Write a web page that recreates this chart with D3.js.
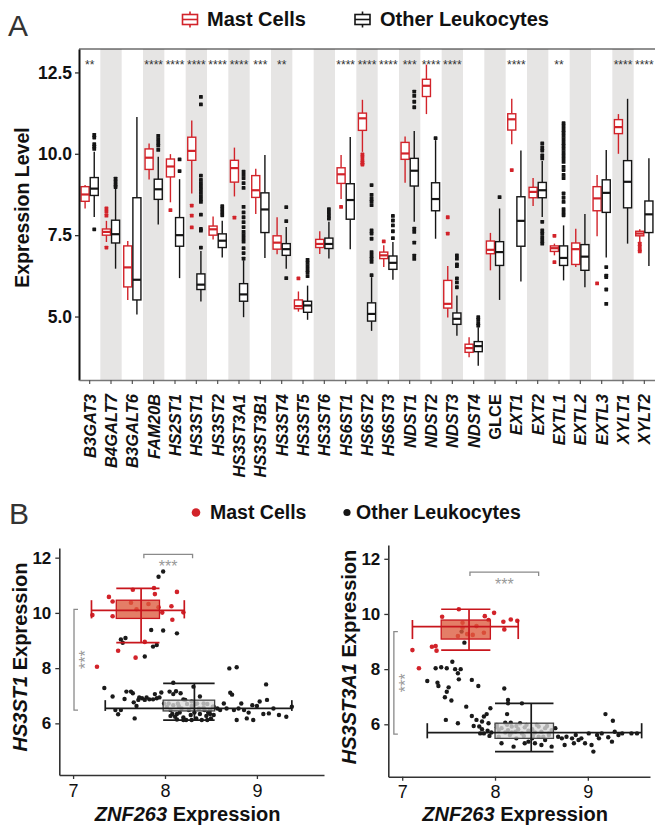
<!DOCTYPE html>
<html>
<head>
<meta charset="utf-8">
<script src="https://cdn.jsdelivr.net/npm/d3@7"></script>
<style>
  body { margin: 0; background: #fff; }
  svg { display: block; font-family: "Liberation Sans", Arial, Helvetica, sans-serif; }
</style>
</head>
<body>
<svg id="chart" width="655" height="828"></svg>
<script>
// ========================================
// PANEL A DATA (boxplots per gene)
// ========================================

const genes = ["B3GAT3", "B4GALT7", "B3GALT6", "FAM20B", "HS2ST1", "HS3ST1", "HS3ST2", "HS3ST3A1",
    "HS3ST3B1", "HS3ST4", "HS3ST5", "HS3ST6", "HS6ST1", "HS6ST2", "HS6ST3", "NDST1", "NDST2",
    "NDST3", "NDST4", "GLCE", "EXT1", "EXT2", "EXTL1", "EXTL2", "EXTL3", "XYLT1", "XYLT2"];
const uprightGenes = ["GLCE"];

const stars = ["**", "", "", "****", "****", "****", "****", "****", "***", "**", "", "", "****", "****",
    "****", "***", "****", "****", "", "", "****", "", "**", "", "", "****", "****"];

// [lower whisker, q1, median, q3, upper whisker]
const mastStats = [
    [8.32, 8.54, 8.75, 8.99, 9.04], [7.29, 7.5, 7.6, 7.69, 7.94], [5.51, 5.91, 6.51, 7.17, 7.32],
    [9.21, 9.52, 9.88, 10.15, 10.32], [8.51, 9.29, 9.61, 9.84, 9.99], [8.78, 9.8, 10.09, 10.51, 11.02],
    [7.37, 7.5, 7.68, 7.78, 8.07], [8.69, 9.13, 9.56, 9.8, 10.19], [8.15, 8.66, 8.88, 9.33, 9.54],
    [6.91, 7.07, 7.27, 7.48, 8.05], [5.15, 5.24, 5.32, 5.51, 5.77], [6.92, 7.12, 7.23, 7.37, 7.62],
    [8.61, 9.09, 9.37, 9.57, 9.96], [10.06, 10.72, 11.09, 11.25, 11.66], [6.52, 6.78, 6.88, 6.98, 7.19],
    [9.11, 9.83, 10.01, 10.35, 10.53], [11.22, 11.76, 12.09, 12.29, 12.74], [4.97, 5.26, 5.39, 6.11, 6.55],
    [3.75, 3.9, 4.03, 4.15, 4.36], [6.42, 6.93, 7.05, 7.32, 7.57], [10.29, 10.73, 11.06, 11.23, 11.69],
    [8.4, 8.65, 8.83, 8.97, 9.26], [6.88, 7.0, 7.1, 7.17, 7.24], [6.52, 6.6, 7.07, 7.26, 7.7],
    [7.47, 8.25, 8.63, 8.99, 9.35], [10.0, 10.62, 10.82, 11.05, 11.22], [7.29, 7.48, 7.55, 7.62, 7.68]
];
const otherStats = [
    [8.06, 8.72, 8.93, 9.27, 10.06], [6.47, 7.26, 7.53, 7.96, 8.95], [5.06, 5.51, 6.13, 8.65, 11.13],
    [7.83, 8.6, 8.91, 9.22, 9.91], [6.18, 7.16, 7.5, 8.04, 9.22], [5.46, 5.83, 5.98, 6.31, 7.01],
    [6.81, 7.12, 7.33, 7.54, 7.94], [4.98, 5.47, 5.68, 6.01, 6.73], [6.8, 7.58, 8.29, 8.8, 9.96],
    [6.47, 6.88, 7.07, 7.24, 7.75], [4.9, 5.13, 5.34, 5.47, 5.95], [6.78, 7.09, 7.23, 7.41, 7.91],
    [7.07, 7.99, 8.58, 9.08, 10.52], [4.56, 4.86, 5.08, 5.42, 6.21], [6.13, 6.45, 6.65, 6.86, 7.29],
    [7.91, 9.01, 9.48, 9.86, 10.7], [7.39, 8.25, 8.61, 9.11, 10.42], [4.41, 4.76, 4.93, 5.11, 5.65],
    [3.49, 3.92, 4.09, 4.23, 4.67], [5.51, 6.57, 6.98, 7.3, 8.32], [6.08, 7.16, 7.94, 8.68, 10.1],
    [8.06, 8.65, 8.88, 9.12, 9.78], [6.11, 6.57, 6.8, 7.17, 7.8], [5.9, 6.42, 6.84, 7.21, 8.15],
    [6.81, 8.2, 8.8, 9.2, 10.12], [7.24, 8.34, 9.14, 9.79, 11.69], [6.55, 7.58, 8.14, 8.55, 9.86]
];

const mastOutliers = [
    [], [8.32, 8.22, 8.1, 7.12], [], [], [8.27], [8.41, 8.1, 7.74], [], [8.04], [], [], [6.17], [],
    [8.37], [9.98, 9.9, 9.8, 9.72, 9.67], [7.31], [], [], [8.05, 7.55], [], [], [9.5], [], [7.48, 6.67],
    [], [6.02], [], [7.24, 7.15, 7.05, 7.0]
];
const otherOutliers = [
    [10.58, 10.5, 10.3, 10.22, 10.15, 7.68],
    [9.24, 9.15, 9.05, 8.98],
    [],
    [10.55, 10.45, 10.35, 10.25, 10.12],
    [9.83, 9.47],
    [11.75, 11.52, 9.33, 9.2, 9.1, 9.0, 8.9, 8.8, 8.7, 8.6, 8.52, 8.13, 7.69, 7.64, 7.12],
    [8.39, 8.3, 8.2, 8.11],
    [9.45, 9.35, 9.25, 9.1, 8.95, 8.37, 8.2, 8.05, 7.9, 7.75, 7.6, 7.5, 7.4, 7.3, 7.1, 6.95, 6.78],
    [],
    [8.36, 7.93, 6.18],
    [6.74, 6.65, 6.55, 6.45, 6.35, 6.24],
    [8.3, 8.2, 8.1, 8.01],
    [],
    [9.04, 8.74, 8.63, 8.53, 8.42, 7.65, 7.55, 7.39, 6.98, 6.88, 6.78, 6.68, 6.27],
    [8.09, 7.95, 7.8, 7.62, 7.41],
    [11.91, 11.78, 11.6, 11.43, 7.7, 7.6, 7.27, 6.87, 6.77],
    [10.48],
    [6.88, 6.78, 6.6, 6.55, 6.17, 6.05, 5.9],
    [4.98, 4.9, 4.8, 4.72],
    [8.67],
    [],
    [10.32, 10.2, 10.1, 9.95, 9.86, 7.91, 7.65, 7.55, 7.44, 7.34, 7.24],
    [10.94, 10.85, 10.75, 10.65, 10.55, 10.45, 10.35, 10.25, 10.15, 10.05, 9.95, 9.85, 9.75, 9.6, 9.5,
        9.35, 9.25, 8.78, 8.65, 8.52, 8.3, 8.2, 8.11],
    [],
    [6.52, 6.26, 6.21, 5.83, 5.39],
    [],
    []
];

const yTicksA = [5.0, 7.5, 10.0, 12.5];

// ========================================
// PANEL B DATA (ZNF263 vs HS3ST1 / HS3ST3A1)
// ========================================

// [x = ZNF263, y = gene]
const hs3st1Mast = [[7.21, 9.92], [7.26, 8.05], [7.39, 10.58], [7.43, 10.41], [7.43, 9.88], [7.49, 8.63],
    [7.65, 10.84], [7.63, 10.37], [7.69, 10.13], [7.78, 8.95], [7.68, 8.38], [7.82, 10.32], [7.88, 10.9],
    [7.89, 10.68], [7.93, 10.2], [7.97, 10.01], [8.07, 10.24], [8.08, 9.75], [8.13, 10.76], [8.2, 10.02]];

const hs3st1Other = [[7.52, 9.04], [7.54, 8.92], [7.57, 9.09], [7.78, 8.42], [7.85, 9.38], [7.87, 8.78],
    [7.91, 8.84], [7.98, 9.36], [7.93, 11.31], [7.98, 11.5], [8.13, 9.26], [8.7, 7.99], [8.78, 8.03],
    [9.1, 7.41], [7.34, 7.28], [7.43, 6.97], [7.46, 6.48], [7.49, 6.33], [7.52, 6.48], [7.56, 6.88],
    [7.58, 7.15], [7.63, 7.15], [7.65, 7.09], [7.66, 6.76], [7.67, 6.18], [7.69, 6.63], [7.71, 6.85],
    [7.72, 6.94], [7.75, 6.91], [7.78, 6.85], [7.8, 6.94], [7.83, 6.87], [7.87, 6.87], [7.89, 7.06],
    [7.91, 6.91], [7.94, 6.94], [7.96, 7.12], [7.99, 6.72], [8.05, 7.15], [8.09, 7.47], [8.12, 7.16],
    [8.09, 7.06], [8.14, 6.72], [8.17, 7.09], [8.2, 6.87], [8.22, 6.85], [8.31, 7.33], [8.29, 6.79],
    [8.35, 6.72], [8.38, 6.97], [8.42, 6.72], [8.46, 6.7], [8.49, 6.48], [8.53, 6.6], [8.57, 6.54],
    [8.6, 6.48], [8.64, 6.72], [8.67, 6.54], [8.71, 7.11], [8.73, 7.04], [8.75, 6.48], [8.78, 6.12],
    [8.8, 6.54], [8.83, 6.72], [8.86, 6.48], [8.89, 6.18], [8.91, 6.39], [8.95, 6.66], [8.96, 6.12],
    [9.0, 6.63], [9.03, 6.79], [9.07, 6.34], [9.11, 6.85], [9.13, 6.36], [9.18, 6.54], [9.24, 6.3],
    [9.32, 6.24], [9.38, 6.6], [8.02, 6.6], [8.06, 6.48], [8.08, 6.34], [8.11, 6.24], [8.13, 6.14],
    [8.16, 6.39], [8.18, 6.54], [8.2, 6.21], [8.23, 6.12], [8.26, 6.48], [8.28, 6.3], [8.29, 6.63],
    [8.32, 6.39], [8.34, 6.18], [8.37, 6.54], [8.38, 6.34], [8.4, 6.12], [8.43, 6.48], [8.45, 6.27],
    [8.47, 6.39], [8.5, 6.18], [8.52, 6.6], [8.04, 6.72], [8.09, 6.66], [8.15, 6.63], [8.24, 6.7],
    [8.33, 6.7], [8.42, 6.58], [8.49, 6.34], [8.2, 6.12], [8.29, 6.12], [8.13, 6.34], [8.06, 6.27],
    [8.46, 6.12], [8.53, 6.3]];

const hs3st3a1Mast = [[7.11, 8.69], [7.18, 8.03], [7.32, 8.81], [7.36, 8.84], [7.37, 8.67], [7.43, 9.9],
    [7.61, 10.17], [7.6, 9.2], [7.65, 9.68], [7.65, 9.5], [7.7, 9.27], [7.76, 9.24], [7.8, 9.56],
    [7.88, 9.32], [7.89, 9.92], [7.93, 9.78], [7.99, 10.04], [8.09, 9.72], [8.1, 9.44], [8.17, 9.8],
    [8.24, 9.75]];

const hs3st3a1Other = [[7.67, 8.96], [7.64, 9.36], [7.27, 7.57], [7.36, 8.03], [7.42, 8.07], [7.48, 8.03],
    [7.54, 8.27], [7.57, 8.0], [7.6, 7.85], [7.63, 8.0], [7.61, 7.63], [7.75, 7.61], [7.82, 7.39],
    [7.38, 7.51], [7.39, 7.39], [7.5, 7.34], [7.48, 7.18], [7.46, 6.98], [7.53, 6.86], [7.47, 6.16],
    [7.6, 6.04], [7.69, 6.64], [7.75, 6.3], [7.8, 6.16], [7.83, 5.92], [7.86, 6.1], [7.88, 6.28],
    [7.91, 6.37], [7.93, 6.04], [7.95, 6.58], [7.77, 5.94], [7.84, 5.67], [7.86, 5.82], [7.88, 5.67],
    [7.92, 5.77], [7.94, 5.58], [7.96, 5.7], [8.02, 5.89], [8.04, 5.55], [8.07, 5.31], [8.11, 6.06],
    [8.13, 6.37], [8.14, 6.76], [8.14, 6.88], [8.1, 7.3], [8.17, 6.06], [8.18, 5.7], [8.2, 5.19],
    [8.23, 5.49], [8.29, 6.76], [8.32, 5.31], [8.36, 5.37], [8.4, 5.49], [8.43, 5.31], [8.47, 5.55],
    [8.5, 5.25], [8.54, 5.43], [8.58, 5.61], [8.61, 5.19], [8.65, 5.86], [8.68, 5.55], [8.72, 5.49],
    [8.75, 5.25], [8.77, 5.55], [8.83, 5.49], [8.85, 5.31], [8.87, 5.61], [8.9, 5.43], [8.93, 5.49],
    [8.97, 5.31], [9.01, 5.67], [9.04, 5.25], [9.06, 5.01], [9.1, 5.61], [9.12, 5.49], [9.15, 5.67],
    [9.19, 6.37], [9.22, 5.53], [9.26, 5.37], [9.27, 6.13], [9.29, 5.73], [9.33, 5.61], [9.37, 5.67],
    [9.47, 5.67], [9.53, 5.67], [8.04, 5.79], [8.07, 5.86], [8.11, 5.7], [8.14, 5.79], [8.18, 5.92],
    [8.22, 5.73], [8.25, 5.82], [8.29, 5.67], [8.32, 5.89], [8.36, 5.77], [8.4, 5.82], [8.43, 5.7],
    [8.47, 5.92], [8.5, 5.73], [8.54, 5.86], [8.58, 5.67], [8.61, 5.79], [8.02, 5.98], [8.13, 5.98],
    [8.23, 5.94], [8.34, 5.98], [8.45, 5.98], [8.56, 5.94], [8.16, 5.61], [8.31, 5.58], [8.41, 5.58],
    [8.52, 5.55], [8.27, 6.04]];

// 2D box summaries: [lower whisker, q1, median, q3, upper whisker]
const hs3st1MastBoxX = [7.2, 7.47, 7.74, 7.94, 8.21];
const hs3st1MastBoxY = [8.92, 9.8, 10.09, 10.46, 10.89];
const hs3st1OtherBoxX = [7.35, 7.98, 8.32, 8.54, 9.38];
const hs3st1OtherBoxY = [6.12, 6.45, 6.54, 6.84, 7.45];
const hs3st3a1MastBoxX = [7.11, 7.42, 7.72, 7.95, 8.25];
const hs3st3a1MastBoxY = [8.69, 9.09, 9.54, 9.78, 10.17];
const hs3st3a1OtherBoxX = [7.27, 8.0, 8.39, 8.63, 9.58];
const hs3st3a1OtherBoxY = [5.01, 5.49, 5.7, 6.04, 6.76];

const xTicksB = [7, 8, 9];
const yTicksB = [6, 8, 10, 12];

// ========================================
// SHARED
// ========================================

const RED = "#d2232a";
const INK = "#151515";
const svg = d3.select("#chart");

function panelLetter(txt, x, y) {
    svg.append("text").attr("x", x).attr("y", y)
        .attr("font-size", 30).attr("fill", "#333").text(txt);
}

// ========================================
// PANEL A
// ========================================

const frameA = { left: 79, right: 655, top: 49, bottom: 380 };
const xA = d3.scaleBand().domain(genes).range([frameA.left, frameA.right]);
const yA = d3.scaleLinear().domain([3.05, 13.22]).range([frameA.bottom, frameA.top]);
const dodge = d3.scaleBand().domain(["mast", "other"]).range([-8.6, 8.6]).paddingInner(0.12);

const gA = svg.append("g");

panelLetter("A", 8, 36);

gA.selectAll(".band")
    .data(genes.filter((g, i) => i % 2 === 1))
    .enter().append("rect")
    .attr("class", "band")
    .attr("x", d => xA(d))
    .attr("y", frameA.top)
    .attr("width", xA.bandwidth())
    .attr("height", frameA.bottom - frameA.top)
    .attr("fill", "#e6e5e4");

function drawBoxes(stats, outliers, key, color) {
    const w = dodge.bandwidth();
    const cx = g => xA(g) + xA.bandwidth() / 2 + dodge(key) + w / 2;
    const grp = gA.append("g").attr("stroke", color).attr("fill", "none");

    genes.forEach((g, i) => {
        const [lo, q1, med, q3, hi] = stats[i];
        const c = cx(g);
        grp.append("line").attr("x1", c).attr("x2", c)
            .attr("y1", yA(hi)).attr("y2", yA(q3)).attr("stroke-width", 1.4);
        grp.append("line").attr("x1", c).attr("x2", c)
            .attr("y1", yA(q1)).attr("y2", yA(lo)).attr("stroke-width", 1.4);
        grp.append("rect")
            .attr("x", c - w / 2).attr("y", yA(q3))
            .attr("width", w).attr("height", yA(q1) - yA(q3))
            .attr("fill", "#fff").attr("stroke-width", 1.4);
        grp.append("line").attr("x1", c - w / 2).attr("x2", c + w / 2)
            .attr("y1", yA(med)).attr("y2", yA(med)).attr("stroke-width", 2.2);

        gA.append("g").selectAll("rect")
            .data(outliers[i])
            .enter().append("rect")
            .attr("x", c - 1.9).attr("y", d => yA(d) - 1.9)
            .attr("width", 3.8).attr("height", 3.8)
            .attr("rx", 0.6)
            .attr("fill", color);
    });
}

drawBoxes(mastStats, mastOutliers, "mast", RED);
drawBoxes(otherStats, otherOutliers, "other", INK);

// significance stars
gA.selectAll(".star")
    .data(genes)
    .enter().append("text")
    .attr("class", "star")
    .attr("x", d => xA(d) + xA.bandwidth() / 2)
    .attr("y", 68.5)
    .attr("text-anchor", "middle")
    .attr("font-size", 12)
    .attr("fill", "#333")
    .text((d, i) => stars[i]);

// frame
gA.append("line").attr("x1", frameA.left).attr("x2", frameA.right)
    .attr("y1", frameA.top).attr("y2", frameA.top).attr("stroke", "#222").attr("stroke-width", 1);

const yAxisA = gA.append("g")
    .attr("transform", `translate(${frameA.left},0)`)
    .call(d3.axisLeft(yA).tickValues(yTicksA).tickFormat(d3.format(".1f")).tickSize(4).tickSizeOuter(0));
yAxisA.select(".domain").attr("stroke", "#111").attr("stroke-width", 2);
yAxisA.selectAll(".tick line").attr("stroke", "#333").attr("stroke-width", 1.3);
yAxisA.selectAll(".tick text")
    .attr("font-size", 17.5).attr("font-weight", "bold").attr("fill", "#111")
    .attr("font-family", "'Liberation Sans', Arial, sans-serif")
    .attr("x", -7);

const xAxisA = gA.append("g")
    .attr("transform", `translate(0,${frameA.bottom})`)
    .call(d3.axisBottom(xA).tickSize(4).tickSizeOuter(0));
xAxisA.select(".domain").attr("stroke", "#777").attr("stroke-width", 1.5);
xAxisA.selectAll(".tick line").attr("stroke", "#555").attr("stroke-width", 1.2);
xAxisA.selectAll(".tick text")
    .attr("font-size", 16.5).attr("font-weight", "bold").attr("fill", "#111")
    .attr("font-family", "'Liberation Sans', Arial, sans-serif")
    .attr("font-style", d => uprightGenes.includes(d) ? "normal" : "italic")
    .attr("text-anchor", "end")
    .attr("dy", null)
    .attr("y", 0)
    .attr("x", 0)
    .attr("transform", "translate(6,14) rotate(-90)");

svg.append("text")
    .attr("transform", "translate(29,207.5) rotate(-90)")
    .attr("text-anchor", "middle")
    .attr("font-size", 19.5).attr("font-weight", "bold").attr("fill", "#111")
    .text("Expression Level");

// legend A
function boxIcon(x, y, color) {
    const g = svg.append("g").attr("stroke", color).attr("fill", "#fff").attr("stroke-width", 1.6);
    g.append("line").attr("x1", x + 7.5).attr("x2", x + 7.5).attr("y1", y - 8).attr("y2", y + 8);
    g.append("rect").attr("x", x).attr("y", y - 5).attr("width", 15).attr("height", 10);
    g.append("line").attr("x1", x).attr("x2", x + 15).attr("y1", y).attr("y2", y);
}
boxIcon(182.5, 19.5, RED);
svg.append("text").attr("x", 207).attr("y", 26).attr("font-size", 20).attr("font-weight", "bold")
    .attr("fill", "#111").text("Mast Cells");
boxIcon(355, 19.5, INK);
svg.append("text").attr("x", 380).attr("y", 26).attr("font-size", 20).attr("font-weight", "bold")
    .attr("fill", "#111").text("Other Leukocytes");

// ========================================
// PANEL B
// ========================================

panelLetter("B", 9, 524);

svg.append("circle").attr("cx", 196).attr("cy", 512.5).attr("r", 4.3).attr("fill", RED);
svg.append("text").attr("x", 210).attr("y", 519).attr("font-size", 19.5).attr("font-weight", "bold")
    .attr("fill", "#111").text("Mast Cells");
svg.append("circle").attr("cx", 347).attr("cy", 512.5).attr("r", 3.6).attr("fill", INK);
svg.append("text").attr("x", 356).attr("y", 519).attr("font-size", 19.5).attr("font-weight", "bold")
    .attr("fill", "#111").text("Other Leukocytes");

function box2d(g, x, y, bx, by, stroke, boxStroke, fill, opacity) {
    g.append("rect")
        .attr("x", x(bx[1])).attr("y", y(by[3]))
        .attr("width", x(bx[3]) - x(bx[1])).attr("height", y(by[1]) - y(by[3]))
        .attr("fill", fill).attr("fill-opacity", opacity)
        .attr("stroke", boxStroke).attr("stroke-width", 1.3);
    const lines = [
        [x(bx[0]), y(by[2]), x(bx[4]), y(by[2])],
        [x(bx[2]), y(by[4]), x(bx[2]), y(by[0])],
        [x(bx[0]), y(by[3]), x(bx[0]), y(by[1])],
        [x(bx[4]), y(by[3]), x(bx[4]), y(by[1])],
        [x(bx[1]), y(by[4]), x(bx[3]), y(by[4])],
        [x(bx[1]), y(by[0]), x(bx[3]), y(by[0])]
    ];
    g.selectAll(null).data(lines).enter().append("line")
        .attr("x1", d => d[0]).attr("y1", d => d[1])
        .attr("x2", d => d[2]).attr("y2", d => d[3])
        .attr("stroke", stroke).attr("stroke-width", 1.7);
}

function scatterPanel(cfg) {
    const x = d3.scaleLinear().domain(cfg.xDomain).range([cfg.left, cfg.right]);
    const y = d3.scaleLinear().domain(cfg.yDomain).range([cfg.bottom, cfg.top]);
    const g = svg.append("g");

    g.append("g").selectAll("circle").data(cfg.other).enter().append("circle")
        .attr("cx", d => x(d[0])).attr("cy", d => y(d[1])).attr("r", 2.2).attr("fill", "#1a1a1a");
    g.append("g").selectAll("circle").data(cfg.mast).enter().append("circle")
        .attr("cx", d => x(d[0])).attr("cy", d => y(d[1])).attr("r", 2.3).attr("fill", RED);

    box2d(g, x, y, cfg.otherBoxX, cfg.otherBoxY, "#1a1a1a", "#444", "#dcdcdc", 0.78);
    box2d(g, x, y, cfg.mastBoxX, cfg.mastBoxY, "#c8161d", "#c8161d", "#dc5a3c", 0.78);

    // significance brackets
    const bt = cfg.bracketTop, bs = cfg.bracketSide;
    g.append("path")
        .attr("d", `M${x(bt[0])},${y(bt[2]) + 4}V${y(bt[2])}H${x(bt[1])}V${y(bt[2]) + 4}`)
        .attr("fill", "none").attr("stroke", "#8a8a8a").attr("stroke-width", 1.3);
    g.append("text")
        .attr("x", (x(bt[0]) + x(bt[1])) / 2).attr("y", y(bt[2]) + 18)
        .attr("text-anchor", "middle").attr("font-size", 16).attr("fill", "#999").text("***");
    g.append("path")
        .attr("d", `M${x(bs[0]) + 4},${y(bs[1])}H${x(bs[0])}V${y(bs[2])}H${x(bs[0]) + 4}`)
        .attr("fill", "none").attr("stroke", "#8a8a8a").attr("stroke-width", 1.3);
    g.append("text")
        .attr("transform", `translate(${x(bs[0]) + 17},${(y(bs[1]) + y(bs[2])) / 2}) rotate(-90)`)
        .attr("text-anchor", "middle").attr("font-size", 16).attr("fill", "#999").text("***");

    const ya = g.append("g").attr("transform", `translate(${cfg.left},0)`)
        .call(d3.axisLeft(y).tickValues(yTicksB).tickFormat(d3.format("d")).tickSize(4).tickSizeOuter(0));
    ya.selectAll(".tick text").attr("font-size", 17).attr("font-weight", "bold").attr("fill", "#111")
        .attr("font-family", "'Liberation Sans', Arial, sans-serif").attr("x", -8);
    const xa = g.append("g").attr("transform", `translate(0,${cfg.bottom})`)
        .call(d3.axisBottom(x).tickValues(xTicksB).tickFormat(d3.format("d")).tickSize(4).tickSizeOuter(0));
    xa.selectAll(".tick text").attr("font-size", 18).attr("fill", "#111")
        .attr("font-family", "'Liberation Sans', Arial, sans-serif").attr("y", 9);
    [ya, xa].forEach(a => {
        a.select(".domain").attr("stroke", "#333").attr("stroke-width", 1.6);
        a.selectAll(".tick line").attr("stroke", "#333").attr("stroke-width", 1.3);
    });

    const xt = svg.append("text")
        .attr("x", (cfg.left + cfg.right) / 2 - 4).attr("y", 821)
        .attr("text-anchor", "middle").attr("font-size", 20).attr("font-weight", "bold").attr("fill", "#111");
    xt.append("tspan").attr("font-style", "italic").text("ZNF263");
    xt.append("tspan").text(" Expression");

    const yt = svg.append("text")
        .attr("transform", `translate(${cfg.titleX},657) rotate(-90)`)
        .attr("text-anchor", "middle").attr("font-size", 20).attr("font-weight", "bold").attr("fill", "#111");
    yt.append("tspan").attr("font-style", "italic").text(cfg.gene);
    yt.append("tspan").text(" Expression");
}

scatterPanel({
    left: 59.3, right: 324, top: 548, bottom: 775,
    xDomain: [6.85, 9.73], yDomain: [4.13, 12.35],
    mast: hs3st1Mast, other: hs3st1Other,
    mastBoxX: hs3st1MastBoxX, mastBoxY: hs3st1MastBoxY,
    otherBoxX: hs3st1OtherBoxX, otherBoxY: hs3st1OtherBoxY,
    bracketTop: [7.77, 8.3, 12.12], bracketSide: [7.01, 10.13, 6.48],
    gene: "HS3ST1", titleX: 27
});

scatterPanel({
    left: 388.3, right: 650, top: 545, bottom: 776.7,
    xDomain: [6.85, 9.67], yDomain: [4.1, 12.5],
    mast: hs3st3a1Mast, other: hs3st3a1Other,
    mastBoxX: hs3st3a1MastBoxX, mastBoxY: hs3st3a1MastBoxY,
    otherBoxX: hs3st3a1OtherBoxX, otherBoxY: hs3st3a1OtherBoxY,
    bracketTop: [7.73, 8.47, 11.52], bracketSide: [6.91, 9.36, 5.64],
    gene: "HS3ST3A1", titleX: 356
});
</script>
</body>
</html>
